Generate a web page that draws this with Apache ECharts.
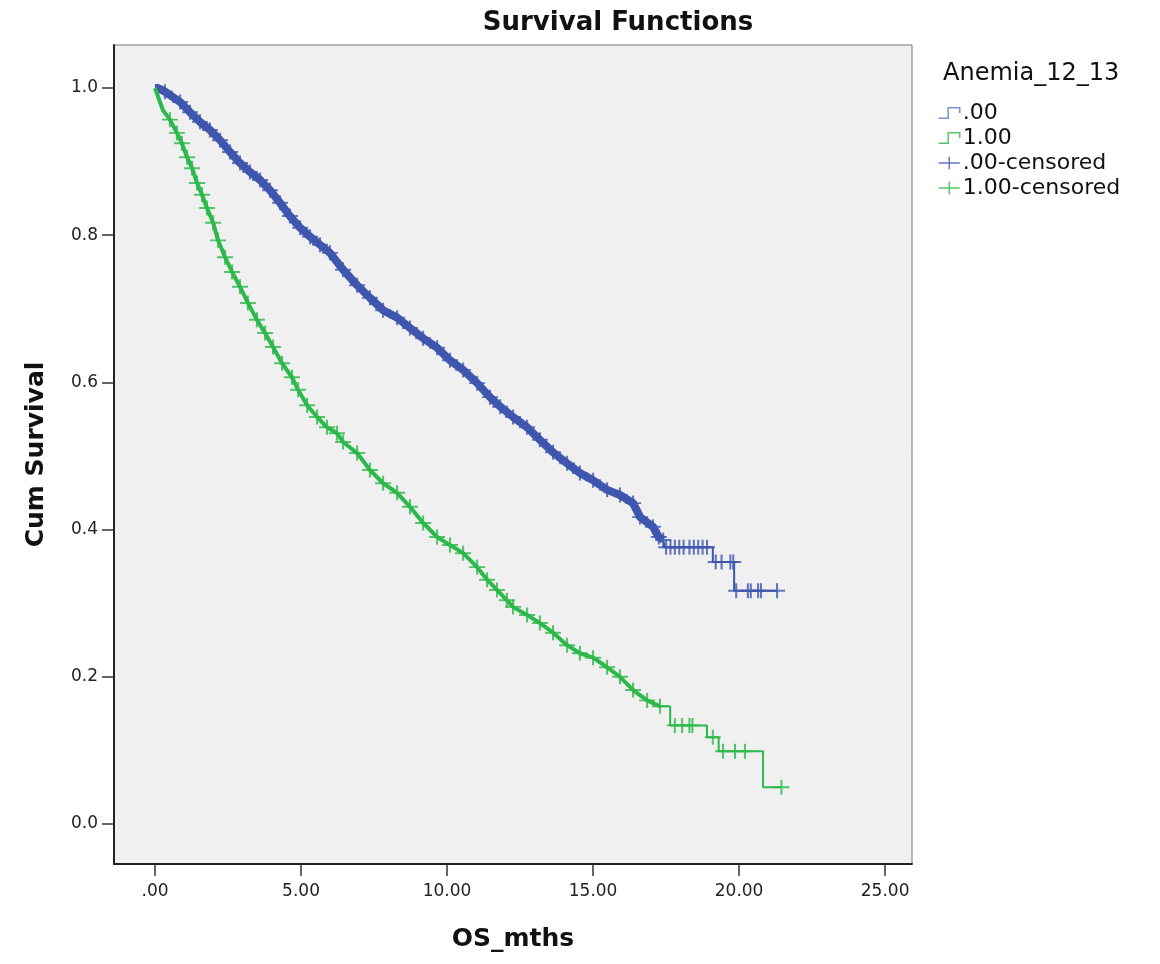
<!DOCTYPE html>
<html>
<head>
<meta charset="utf-8">
<script src="https://cdn.jsdelivr.net/npm/echarts@6/dist/echarts.min.js"></script>
<style>
  html, body { margin: 0; padding: 0; background: #ffffff; }
  #main { width: 1160px; height: 964px; }
</style>
</head>
<body>
<div id="main"></div>
<script>
// Anemia_12_13 = .00 (blue), dense part
const blueTimes = [0, 0.10, 0.34, 0.86, 1.20, 1.54, 1.88, 2.23, 2.57, 2.91, 3.25, 3.60, 3.94, 4.28, 4.62, 4.97,
    5.31, 5.65, 5.99, 6.44, 6.92, 7.36, 7.81, 8.29, 8.73, 9.18, 9.66, 10.10, 10.55, 11.03, 11.47, 11.82,
    12.26, 12.74, 13.18, 13.63, 14.11, 14.55, 15.00, 15.48, 15.92, 16.37, 16.61, 17.05, 17.25, 17.40];
const blueSurv = [1.000, 1.000, 0.995, 0.981, 0.967, 0.954, 0.943, 0.929, 0.913, 0.898, 0.886, 0.875, 0.861, 0.844, 0.826, 0.810,
    0.798, 0.787, 0.776, 0.753, 0.732, 0.715, 0.698, 0.688, 0.674, 0.660, 0.647, 0.630, 0.617, 0.599, 0.580, 0.567,
    0.553, 0.539, 0.522, 0.505, 0.490, 0.477, 0.467, 0.454, 0.447, 0.436, 0.417, 0.404, 0.390, 0.386];
// blue tail, drawn as steps
const blueTailTimes = [17.40, 17.45, 19.10, 19.83, 21.30];
const blueTailSurv = [0.386, 0.376, 0.356, 0.317, 0.317];
const blueCensorTimes = [17.50, 17.65, 17.80, 17.95, 18.10, 18.30, 18.45, 18.60, 18.75, 18.90,
    19.20, 19.40, 19.70, 19.80, 19.90, 20.30, 20.40, 20.65, 20.75, 21.30];
const blueCensorSurv = [0.376, 0.376, 0.376, 0.376, 0.376, 0.376, 0.376, 0.376, 0.376, 0.376,
    0.356, 0.356, 0.356, 0.356, 0.317, 0.317, 0.317, 0.317, 0.317, 0.317];

// Anemia_12_13 = 1.00 (green)
const greenTimes = [0, 0.27, 0.51, 0.75, 0.92, 1.10, 1.27, 1.44, 1.61, 1.78, 1.99, 2.16, 2.40, 2.64, 2.91, 3.18,
    3.49, 3.77, 4.04, 4.35, 4.69, 4.90, 5.21, 5.55, 5.89, 6.23, 6.44, 6.92, 7.36, 7.81, 8.29, 8.73,
    9.18, 9.66, 10.10, 10.55, 11.03, 11.37, 11.71, 12.05, 12.26, 12.74, 13.18, 13.63, 14.11, 14.55,
    15.00, 15.48, 15.92, 16.37, 16.85, 17.29];
const greenSurv = [1.000, 0.970, 0.957, 0.939, 0.925, 0.906, 0.891, 0.871, 0.855, 0.837, 0.817, 0.793, 0.770, 0.750, 0.730, 0.708,
    0.685, 0.667, 0.648, 0.626, 0.607, 0.590, 0.569, 0.553, 0.539, 0.531, 0.519, 0.504, 0.481, 0.463, 0.450, 0.431,
    0.409, 0.390, 0.379, 0.368, 0.349, 0.332, 0.318, 0.304, 0.295, 0.284, 0.273, 0.260, 0.243, 0.232,
    0.226, 0.213, 0.200, 0.182, 0.168, 0.160];
const greenTailTimes = [17.29, 17.64, 18.90, 19.30, 20.82, 21.45];
const greenTailSurv = [0.160, 0.134, 0.118, 0.099, 0.050, 0.050];
const greenCensorTimes = [17.80, 18.05, 18.30, 18.40, 19.10, 19.45, 19.86, 20.20, 21.45];
const greenCensorSurv = [0.134, 0.134, 0.134, 0.134, 0.118, 0.099, 0.099, 0.099, 0.050];

const xTicks = [0, 5, 10, 15, 20, 25];
const xTickLabels = ['.00', '5.00', '10.00', '15.00', '20.00', '25.00'];
const yTicks = [0, 0.2, 0.4, 0.6, 0.8, 1.0];
const yTickLabels = ['0.0', '0.2', '0.4', '0.6', '0.8', '1.0'];

const BLUE = '#3e56ad';
const GREEN = '#2cb84a';
const FONT = 'DejaVu Sans';
const crossSymbol = 'path://M0,7 L16,7 M8,0 L8,14';
const stepIcon = 'path://M0,12 L9,12 L9,2 L20,2 L20,7';
const crossIcon = 'path://M0,6 L20,6 M10,0 L10,12';

function pairs(ts, ss) {
    let out = [];
    for (let i = 0; i < ts.length; i++) out.push([ts[i], ss[i]]);
    return out;
}

let myChart = echarts.init(document.getElementById('main'));
let option = {
    backgroundColor: '#ffffff',
    animation: false,
    title: [
        {
            text: 'Survival Functions',
            left: 613, top: 5, textAlign: 'center',
            textStyle: { fontFamily: FONT, fontSize: 26, fontWeight: 'bold', color: '#111' }
        },
        {
            text: 'Anemia_12_13',
            left: 938, top: 57,
            textStyle: { fontFamily: FONT, fontSize: 24, fontWeight: 'normal', color: '#111' }
        }
    ],
    legend: {
        orient: 'vertical',
        left: 933, top: 97,
        itemWidth: 21, itemHeight: 13, itemGap: 3,
        textStyle: { fontFamily: FONT, fontSize: 22, lineHeight: 22, color: '#111', padding: [0, 0, 0, -2] },
        data: [
            { name: '.00', icon: stepIcon, itemStyle: { color: 'transparent', borderColor: '#7d8fcf', borderWidth: 1.5 } },
            { name: '1.00', icon: stepIcon, itemStyle: { color: 'transparent', borderColor: '#55c56d', borderWidth: 1.5 } },
            { name: '.00-censored', icon: crossIcon, itemStyle: { color: 'transparent', borderColor: BLUE, borderWidth: 1.5 } },
            { name: '1.00-censored', icon: crossIcon, itemStyle: { color: 'transparent', borderColor: GREEN, borderWidth: 1.5 } }
        ]
    },
    grid: {
        left: 114, top: 45, right: 248, bottom: 100,
        show: true, backgroundColor: '#f0f0f0', borderColor: '#777', borderWidth: 1
    },
    xAxis: {
        type: 'value',
        min: -1.404, max: 25.92,
        name: 'OS_mths', nameLocation: 'middle', nameGap: 63,
        nameTextStyle: { fontFamily: FONT, fontSize: 25, fontWeight: 'bold', color: '#111' },
        axisLine: { show: true, onZero: false, lineStyle: { color: '#222', width: 2 } },
        axisTick: { show: true, length: 12, customValues: xTicks, lineStyle: { color: '#333', width: 1.5 } },
        axisLabel: {
            customValues: xTicks, margin: 19,
            fontFamily: FONT, fontSize: 17, color: '#222',
            formatter: function (v) { return xTickLabels[xTicks.indexOf(v)]; }
        },
        splitLine: { show: false }
    },
    yAxis: {
        type: 'value',
        min: -0.0543, max: 1.0584,
        name: 'Cum Survival', nameLocation: 'middle', nameGap: 65, nameRotate: 90,
        nameTextStyle: { fontFamily: FONT, fontSize: 25, fontWeight: 'bold', color: '#111' },
        axisLine: { show: true, onZero: false, lineStyle: { color: '#222', width: 2 } },
        axisTick: { show: true, length: 12, customValues: yTicks, lineStyle: { color: '#333', width: 1.5 } },
        axisLabel: {
            customValues: yTicks, margin: 16,
            fontFamily: FONT, fontSize: 17, color: '#222',
            formatter: function (v) { return yTickLabels[yTicks.indexOf(v)]; }
        },
        splitLine: { show: false }
    },
    series: [
        {
            name: '.00', type: 'line', data: pairs(blueTimes, blueSurv),
            showSymbol: false, lineStyle: { color: BLUE, width: 8 }, itemStyle: { color: BLUE }
        },
        {
            name: '.00', type: 'line', step: 'end', data: pairs(blueTailTimes, blueTailSurv),
            showSymbol: false, lineStyle: { color: BLUE, width: 2 }, itemStyle: { color: BLUE }
        },
        {
            name: '.00-censored', type: 'scatter', symbol: crossSymbol, symbolSize: [16, 15],
            data: pairs(blueTimes.slice(2), blueSurv.slice(2)).concat(pairs(blueCensorTimes, blueCensorSurv)),
            itemStyle: { color: 'transparent', borderColor: BLUE, borderWidth: 2 }
        },
        {
            name: '1.00', type: 'line', data: pairs(greenTimes, greenSurv),
            showSymbol: false, lineStyle: { color: GREEN, width: 4 }, itemStyle: { color: GREEN }
        },
        {
            name: '1.00', type: 'line', step: 'end', data: pairs(greenTailTimes, greenTailSurv),
            showSymbol: false, lineStyle: { color: GREEN, width: 2 }, itemStyle: { color: GREEN }
        },
        {
            name: '1.00-censored', type: 'scatter', symbol: crossSymbol, symbolSize: [16, 15],
            data: pairs(greenTimes.slice(2), greenSurv.slice(2)).concat(pairs(greenCensorTimes, greenCensorSurv)),
            itemStyle: { color: 'transparent', borderColor: GREEN, borderWidth: 2 }
        }
    ]
};
myChart.setOption(option);
</script>
</body>
</html>
